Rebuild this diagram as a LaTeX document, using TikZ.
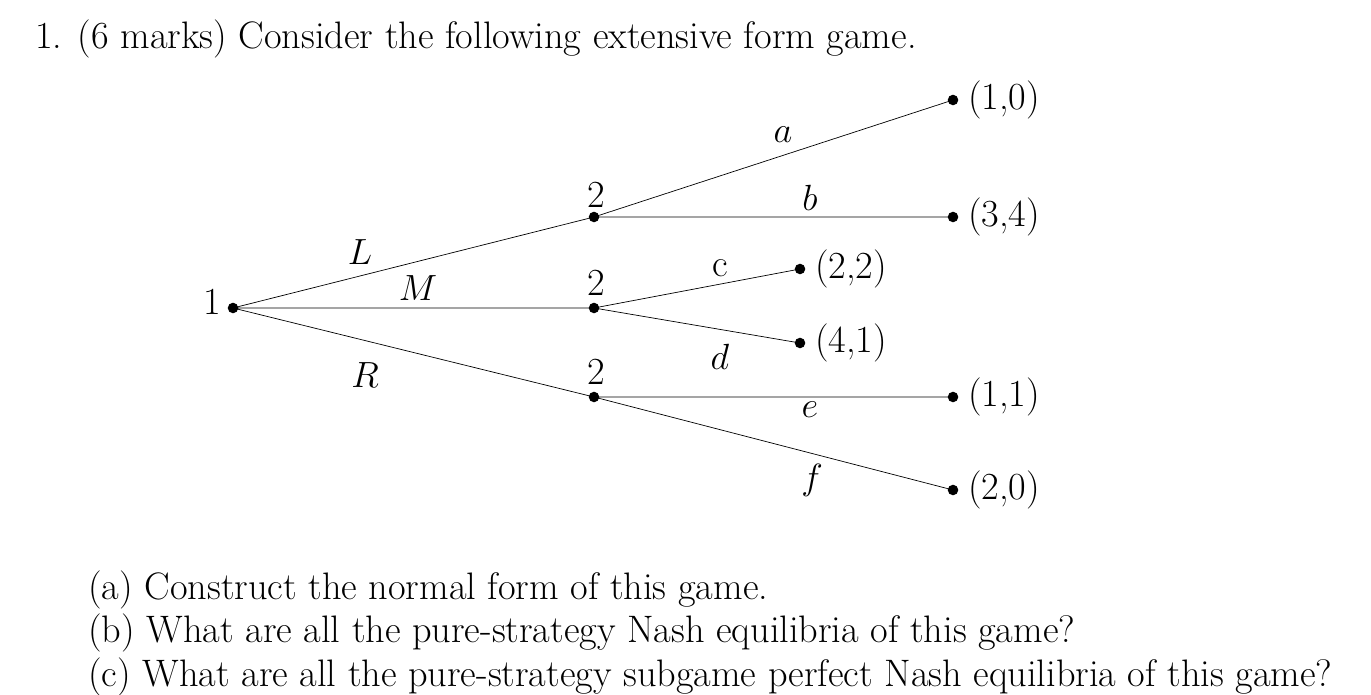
\documentclass[tikz,border=0pt]{standalone}
\begin{document}
\begin{tikzpicture}[x=0.02cm,y=-0.02cm,
  dotn/.style={circle,fill=black,inner sep=0pt,minimum size=6pt},
  lab/.style={font=\fontsize{21.8}{26}\selectfont},
  txt/.style={font=\fontsize{21.8}{26}\selectfont,anchor=base west,inner sep=0pt}]
\useasboundingbox (0,0) rectangle (1371,695);
\node[txt] (title) at (35,49) {1. (6 marks) Consider the following extensive form game.};
\node[dotn] (r) at (233,308) {};
\node[dotn] (nL) at (594,217) {};
\node[dotn] (nM) at (594,308) {};
\node[dotn] (nR) at (594,397) {};
\node[dotn] (ta) at (953,100) {};
\node[dotn] (tb) at (953,217) {};
\node[dotn] (tc) at (800,269) {};
\node[dotn] (td) at (800,343) {};
\node[dotn] (te) at (953,397) {};
\node[dotn] (tf) at (953,490) {};
\draw (r.center)--(nL.center) (r.center)--(nM.center) (r.center)--(nR.center)
 (nL.center)--(ta.center) (nL.center)--(tb.center)
 (nM.center)--(tc.center) (nM.center)--(td.center)
 (nR.center)--(te.center) (nR.center)--(tf.center);
\node[lab] (l1) at (212,302) {1};
\node[lab] (l2a) at (596,195) {2};
\node[lab] (l2b) at (596,283) {2};
\node[lab] (l2c) at (596,372) {2};
\node[lab] (lL) at (360,252) {$L$};
\node[lab] (lM) at (418,288) {$M$};
\node[lab] (lR) at (365,375) {$R$};
\node[lab] (la) at (783,135) {$a$};
\node[lab] (lb) at (810,198) {$b$};
\node[lab] (lc) at (720,268) {c};
\node[lab] (ld) at (720,357) {$d$};
\node[lab] (le) at (810,410) {$e$};
\node[lab] (lf) at (812,480) {$f$};
\node[lab,anchor=west] (pa) at (962,100) {(1,0)};
\node[lab,anchor=west] (pb) at (962,217) {(3,4)};
\node[lab,anchor=west] (pc) at (809,269) {(2,2)};
\node[lab,anchor=west] (pd) at (809,343) {(4,1)};
\node[lab,anchor=west] (pe) at (962,397) {(1,1)};
\node[lab,anchor=west] (pf) at (962,490) {(2,0)};
\node[txt] (qa) at (88,599) {(a) Construct the normal form of this game.};
\node[txt] (qb) at (88,642) {(b) What are all the pure-strategy Nash equilibria of this game?};
\node[txt] (qc) at (88,686) {(c) What are all the pure-strategy subgame perfect Nash equilibria of this game?};
\end{tikzpicture}
\end{document}
